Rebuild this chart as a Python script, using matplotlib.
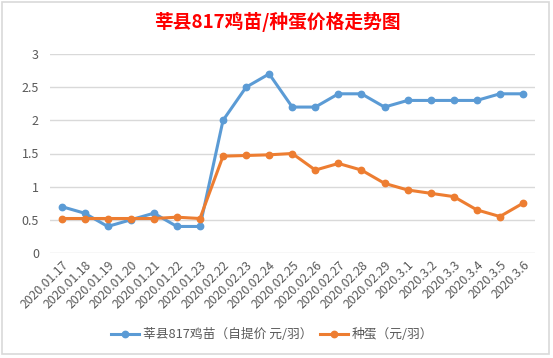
import matplotlib
matplotlib.use("Agg")
import matplotlib.pyplot as plt
from matplotlib.patches import Rectangle

plt.rcParams['font.family'] = ['Noto Sans CJK SC', 'DejaVu Sans']

dates = ["2020.01.17", "2020.01.18", "2020.01.19", "2020.01.20", "2020.01.21",
         "2020.01.22", "2020.01.23", "2020.02.22", "2020.02.23", "2020.02.24",
         "2020.02.25", "2020.02.26", "2020.02.27", "2020.02.28", "2020.02.29",
         "2020.3.1", "2020.3.2", "2020.3.3", "2020.3.4", "2020.3.5", "2020.3.6"]
chick = [0.7, 0.6, 0.4, 0.5, 0.6, 0.4, 0.4, 2.0, 2.5, 2.7, 2.2, 2.2, 2.4, 2.4,
         2.2, 2.3, 2.3, 2.3, 2.3, 2.4, 2.4]
egg = [0.52, 0.52, 0.52, 0.52, 0.52, 0.54, 0.52, 1.46, 1.47, 1.48, 1.5, 1.25,
       1.35, 1.25, 1.05, 0.95, 0.9, 0.85, 0.65, 0.55, 0.75]
yticks = [0, 0.5, 1, 1.5, 2, 2.5, 3]
title = "莘县817鸡苗/种蛋价格走势图"
label_chick = "莘县817鸡苗（自提价 元/羽）"
label_egg = "种蛋（元/羽）"

W, H = 553, 358
fig = plt.figure(figsize=(W / 100, H / 100), dpi=100)
fig.patches.append(Rectangle((2 / W, 4 / H), 547 / W, 352 / H, transform=fig.transFigure,
                             fill=False, edgecolor="#d9d9d9", linewidth=1.2))

ax = fig.add_axes([50 / W, 1 - 253 / H, 484.5 / W, 199 / H])
x = list(range(len(dates)))
ax.plot(x, chick, color="#5B9BD5", linewidth=2.2, marker="o", markersize=4.6,
        label=label_chick, zorder=3)
ax.plot(x, egg, color="#ED7D31", linewidth=2.2, marker="o", markersize=4.6,
        label=label_egg, zorder=3)

ax.set_xlim(-0.5, len(dates) - 0.5)
ax.set_ylim(0, 3)
ax.set_yticks(yticks)
ax.set_yticklabels([f"{v:g}" for v in yticks])
ax.grid(axis="y", color="#d9d9d9", linewidth=1)
ax.set_axisbelow(True)
for s in ax.spines.values():
    s.set_visible(False)
ax.tick_params(axis="y", length=0, pad=8, labelsize=9, labelcolor="#595959")
ax.tick_params(axis="x", length=0, pad=4, labelsize=8.8, labelcolor="#595959")
ax.set_xticks(x)
ax.set_xticklabels(dates, rotation=45, ha="right", va="top", rotation_mode="anchor")

fig.text(277 / W, 1 - 22 / H, title, ha="center", va="center", color="#FF0000",
         fontsize=13.5, fontweight="bold")

leg = fig.legend(loc="center", bbox_to_anchor=(272 / W, 1 - 335 / H), ncol=2,
                 frameon=False, fontsize=9.2, handlelength=2.2, columnspacing=0.6,
                 handletextpad=0.3, labelcolor="#595959")

fig.savefig("out.png", dpi=100)
